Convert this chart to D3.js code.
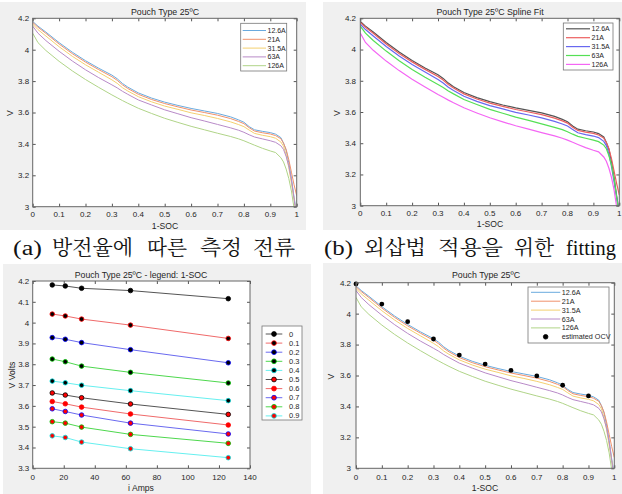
<!DOCTYPE html>
<html>
<head>
<meta charset="utf-8">
<script src="https://cdn.jsdelivr.net/npm/d3@7"></script>
<style>
    body { margin: 0; background: #fff; }
    svg { display: block; font-family: "Liberation Sans", Arial, sans-serif; }
</style>
</head>
<body>
<svg width="622" height="494"></svg>
<script>
// ---- data ----
const currentNames = ["12.6A", "21A", "31.5A", "63A", "126A"];
const socGrid = [0, 0.02, 0.05, 0.1, 0.15, 0.2, 0.25, 0.3, 0.32, 0.34, 0.36, 0.4, 0.45, 0.5, 0.55, 0.6, 0.65,
    0.7, 0.75, 0.78, 0.8, 0.82, 0.84, 0.87, 0.9, 0.92, 0.94, 0.95, 0.96, 0.97, 0.98, 0.99, 1.0];
const volts12_6 = [4.180, 4.150, 4.112, 4.045, 3.984, 3.930, 3.882, 3.838, 3.815, 3.785, 3.762, 3.725, 3.692, 3.666,
    3.645, 3.626, 3.610, 3.594, 3.572, 3.553, 3.538, 3.510, 3.490, 3.480, 3.472, 3.462, 3.440, 3.405, 3.36, 3.28,
    3.18, 3.06, 2.96];
const volts21 = [4.174, 4.143, 4.104, 4.036, 3.975, 3.921, 3.873, 3.828, 3.805, 3.776, 3.753, 3.716, 3.683, 3.657,
    3.636, 3.616, 3.600, 3.583, 3.561, 3.543, 3.529, 3.503, 3.482, 3.471, 3.463, 3.453, 3.433, 3.405, 3.365, 3.30,
    3.22, 3.14, 3.07];
const volts31_5 = [4.163, 4.128, 4.087, 4.019, 3.958, 3.904, 3.856, 3.808, 3.786, 3.758, 3.737, 3.701, 3.668, 3.641,
    3.620, 3.598, 3.581, 3.562, 3.540, 3.523, 3.510, 3.488, 3.467, 3.455, 3.446, 3.436, 3.412, 3.385, 3.33, 3.25,
    3.15, 3.05, 2.94];
const volts63 = [4.150, 4.105, 4.058, 3.990, 3.928, 3.872, 3.822, 3.776, 3.757, 3.735, 3.716, 3.680, 3.648, 3.617,
    3.592, 3.567, 3.546, 3.524, 3.502, 3.487, 3.474, 3.458, 3.444, 3.432, 3.420, 3.410, 3.388, 3.365, 3.32, 3.26,
    3.17, 3.05, 2.92];
const volts126 = [4.105, 4.045, 3.995, 3.926, 3.865, 3.810, 3.760, 3.712, 3.694, 3.676, 3.659, 3.627, 3.594, 3.563,
    3.537, 3.512, 3.490, 3.468, 3.447, 3.432, 3.420, 3.406, 3.392, 3.372, 3.355, 3.345, 3.312, 3.285, 3.24, 3.18,
    3.10, 2.99, 2.85];
const curveVolts = [volts12_6, volts21, volts31_5, volts63, volts126];

// voltage vs current at each 1-SOC level (bottom left)
const currents = [12.6, 21, 31.5, 63, 126];
const socLevels = ["0", "0.1", "0.2", "0.3", "0.4", "0.5", "0.6", "0.7", "0.8", "0.9"];
const levelVolts = [
    [4.181, 4.176, 4.165, 4.154, 4.115],
    [4.041, 4.032, 4.017, 3.988, 3.924],
    [3.928, 3.920, 3.904, 3.870, 3.807],
    [3.825, 3.812, 3.791, 3.761, 3.710],
    [3.719, 3.711, 3.699, 3.673, 3.625],
    [3.662, 3.652, 3.639, 3.609, 3.559],
    [3.621, 3.610, 3.594, 3.561, 3.508],
    [3.586, 3.573, 3.556, 3.517, 3.465],
    [3.524, 3.517, 3.498, 3.463, 3.420],
    [3.456, 3.448, 3.426, 3.394, 3.351],
];

// estimated OCV (bottom right)
const ocvSoc = [0, 0.1, 0.2, 0.3, 0.4, 0.5, 0.6, 0.7, 0.8, 0.9];
const ocvVolts = [4.192, 4.062, 3.948, 3.836, 3.732, 3.674, 3.633, 3.597, 3.537, 3.468];

const socTicks = [0, 0.1, 0.2, 0.3, 0.4, 0.5, 0.6, 0.7, 0.8, 0.9, 1];
const socTickLabels = ["0", "0.1", "0.2", "0.3", "0.4", "0.5", "0.6", "0.7", "0.8", "0.9", "1"];
const voltTicks = [3, 3.2, 3.4, 3.6, 3.8, 4, 4.2];
const voltTickLabels = ["3", "3.2", "3.4", "3.6", "3.8", "4", "4.2"];
const ampTicks = [0, 20, 40, 60, 80, 100, 120, 140];
const ampTickLabels = ["0", "20", "40", "60", "80", "100", "120", "140"];
const ampVoltTicks = [3.3, 3.4, 3.5, 3.6, 3.7, 3.8, 3.9, 4, 4.1, 4.2];
const ampVoltTickLabels = ["3.3", "3.4", "3.5", "3.6", "3.7", "3.8", "3.9", "4", "4.1", "4.2"];

// ---- colours ----
const matlabFaded = ["#6aaade", "#f0916c", "#f4d070", "#b88ac8", "#b0d488"];
const splineColours = ["#555555", "#ec5f5f", "#6868f0", "#55e055", "#f466f4"];
const levelLineColours = ["#555555", "#f06a6a", "#6a6af0", "#4ed84e", "#66f0f0"];
const levelEdgeColours = ["#000000", "#ff0000", "#0000ff", "#00c000", "#00e0e0"];

const ink = "#262626";
const svg = d3.select("svg");

function figureBackground(x0, y0, x1, y1) {
    svg.append("rect")
        .attr("x", x0).attr("y", y0)
        .attr("width", x1 - x0).attr("height", y1 - y0)
        .attr("fill", "#f0f0f0");
}

// white axes area + scales, returns layers for plot and frame
function makeAxes(box, xDomain, yDomain, id) {
    const x = d3.scaleLinear().domain(xDomain).range([box.left, box.right]);
    const y = d3.scaleLinear().domain(yDomain).range([box.bottom, box.top]);
    svg.append("rect")
        .attr("x", box.left).attr("y", box.top)
        .attr("width", box.right - box.left).attr("height", box.bottom - box.top)
        .attr("fill", "#fff");
    svg.append("clipPath").attr("id", id)
        .append("rect")
        .attr("x", box.left).attr("y", box.top)
        .attr("width", box.right - box.left).attr("height", box.bottom - box.top);
    const plot = svg.append("g").attr("clip-path", "url(#" + id + ")");
    return {x: x, y: y, box: box, plot: plot};
}

// ticks on all four sides pointing inward, MATLAB style box; labels drawn separately
function drawFrame(ax, xTicks, xLabels, yTicks, yLabels, padX, padY) {
    const b = ax.box;
    const frame = svg.append("g");
    const specs = [
        [d3.axisBottom(ax.x), "translate(0," + b.bottom + ")", xTicks],
        [d3.axisTop(ax.x), "translate(0," + b.top + ")", xTicks],
        [d3.axisLeft(ax.y), "translate(" + b.left + ",0)", yTicks],
        [d3.axisRight(ax.y), "translate(" + b.right + ",0)", yTicks],
    ];
    specs.forEach(function (s) {
        const g = frame.append("g")
            .attr("transform", s[1])
            .call(s[0].tickValues(s[2]).tickFormat("").tickSizeInner(-3).tickSizeOuter(0));
        g.select(".domain").remove();
        g.selectAll("line").attr("stroke", "#555");
    });
    frame.append("rect")
        .attr("x", b.left).attr("y", b.top)
        .attr("width", b.right - b.left).attr("height", b.bottom - b.top)
        .attr("fill", "none").attr("stroke", "#666").attr("stroke-width", 1);

    frame.append("g").selectAll("text")
        .data(d3.zip(xTicks, xLabels))
        .join("text")
        .attr("x", function (d) { return ax.x(d[0]); })
        .attr("y", b.bottom + padX + 6)
        .attr("text-anchor", "middle")
        .attr("font-size", 8)
        .attr("fill", ink)
        .text(function (d) { return d[1]; });
    frame.append("g").selectAll("text")
        .data(d3.zip(yTicks, yLabels))
        .join("text")
        .attr("x", b.left - padY)
        .attr("y", function (d) { return ax.y(d[0]) + 2.9; })
        .attr("text-anchor", "end")
        .attr("font-size", 8)
        .attr("fill", ink)
        .text(function (d) { return d[1]; });
}

function label(x, y, text, size, rotate) {
    const t = svg.append("text")
        .attr("x", x).attr("y", y)
        .attr("text-anchor", "middle")
        .attr("font-size", size)
        .attr("fill", ink)
        .text(text);
    if (rotate) {
        t.attr("transform", "rotate(-90," + x + "," + y + ")");
    }
    return t;
}

function drawCurves(ax, colours, width) {
    const line = d3.line()
        .x(function (d) { return ax.x(d[0]); })
        .y(function (d) { return ax.y(d[1]); });
    curveVolts.forEach(function (volts, i) {
        ax.plot.append("path")
            .datum(d3.zip(socGrid, volts))
            .attr("d", line)
            .attr("fill", "none")
            .attr("stroke", colours[i])
            .attr("stroke-width", width);
    });
}

// legend: rows = [{name, stroke, face, edge}]
function drawLegend(lg, rows) {
    const g = svg.append("g");
    g.append("rect")
        .attr("x", lg.x0).attr("y", lg.y0)
        .attr("width", lg.x1 - lg.x0).attr("height", lg.y1 - lg.y0)
        .attr("fill", "#fff").attr("stroke", "#777").attr("stroke-width", 0.8);
    rows.forEach(function (r, i) {
        const cy = lg.firstY + i * lg.step;
        if (r.stroke) {
            g.append("line")
                .attr("x1", lg.lineX0).attr("x2", lg.lineX1)
                .attr("y1", cy).attr("y2", cy)
                .attr("stroke", r.stroke).attr("stroke-width", lg.lineWidth || 1);
        }
        if (r.face) {
            g.append("circle")
                .attr("cx", (lg.lineX0 + lg.lineX1) / 2).attr("cy", cy)
                .attr("r", lg.dotR)
                .attr("fill", r.face)
                .attr("stroke", r.edge || r.face).attr("stroke-width", 0.8);
        }
        g.append("text")
            .attr("x", lg.textX).attr("y", cy + 2.5)
            .attr("font-size", lg.fontSize)
            .attr("fill", ink)
            .text(r.name);
    });
}

// ---- figure backgrounds ----
figureBackground(0, 2, 306, 230);
figureBackground(323, 2, 622, 230);
figureBackground(3, 264, 311, 494);
figureBackground(323, 263, 622, 494);

// ---- (top left) measured curves ----
const ax1 = makeAxes({left: 32.7, right: 296.7, top: 18.3, bottom: 206.7}, [0, 1], [3, 4.2], "clip1");
drawCurves(ax1, matlabFaded, 1);
drawFrame(ax1, socTicks, socTickLabels, voltTicks, voltTickLabels, 4, 3.5);
label(165, 15, "Pouch Type 25ºC", 8.8);
label(165, 229, "1-SOC", 8.6);
label(12.5, 113, "V", 8.6, true);
drawLegend({x0: 240.7, x1: 286.7, y0: 23.3, y1: 71, firstY: 30.5, step: 8.8,
        lineX0: 242.7, lineX1: 266, textX: 267.5, fontSize: 7},
    currentNames.map(function (n, i) { return {name: n, stroke: matlabFaded[i]}; }));

// ---- (top right) spline fit ----
const ax2 = makeAxes({left: 360.3, right: 619.3, top: 18.3, bottom: 205.7}, [0, 1], [3, 4.2], "clip2");
drawCurves(ax2, splineColours, 1.2);
drawFrame(ax2, socTicks, socTickLabels, voltTicks, voltTickLabels, 4.5, 4.3);
label(490, 14.5, "Pouch Type 25ºC Spline Fit", 8.8);
label(490, 226.5, "1-SOC", 8.6);
label(340, 113, "V", 8.6, true);
drawLegend({x0: 563.3, x1: 613, y0: 23, y1: 70, firstY: 28.8, step: 8.9,
        lineX0: 566, lineX1: 590, textX: 591.5, fontSize: 7, lineWidth: 1.2},
    currentNames.map(function (n, i) { return {name: n, stroke: splineColours[i]}; }));

// ---- (bottom left) voltage vs current ----
const ax3 = makeAxes({left: 32.7, right: 250, top: 281, bottom: 468.3}, [0, 140], [3.3, 4.2], "clip3");
const ampLine = d3.line()
    .x(function (d) { return ax3.x(d[0]); })
    .y(function (d) { return ax3.y(d[1]); });
levelVolts.forEach(function (volts, i) {
    const pts = d3.zip(currents, volts);
    ax3.plot.append("path")
        .datum(pts)
        .attr("d", ampLine)
        .attr("fill", "none")
        .attr("stroke", levelLineColours[i % 5])
        .attr("stroke-width", 1);
    svg.selectAll(".dot" + i)
        .data(pts)
        .enter()
        .append("circle")
        .attr("cx", function (d) { return ax3.x(d[0]); })
        .attr("cy", function (d) { return ax3.y(d[1]); })
        .attr("r", 2.3)
        .attr("fill", i < 5 ? "#000" : "#f00")
        .attr("stroke", levelEdgeColours[i % 5])
        .attr("stroke-width", 0.8);
});
drawFrame(ax3, ampTicks, ampTickLabels, ampVoltTicks, ampVoltTickLabels, 6, 3.4);
label(141, 277.5, "Pouch Type 25ºC - legend: 1-SOC", 8.7);
label(141, 490.5, "i Amps", 8.6);
label(15, 375, "V Volts", 8.6, true);
drawLegend({x0: 262, x1: 302, y0: 326, y1: 420, firstY: 334, step: 9.1,
        lineX0: 265.7, lineX1: 282.3, textX: 289, fontSize: 7.5, dotR: 2.4},
    socLevels.map(function (n, i) {
        return {name: n, stroke: levelLineColours[i % 5], face: i < 5 ? "#000" : "#f00", edge: levelEdgeColours[i % 5]};
    }));

// ---- (bottom right) curves with estimated OCV ----
const ax4 = makeAxes({left: 356, right: 614.3, top: 282.7, bottom: 468.3}, [0, 1], [3, 4.2], "clip4");
drawCurves(ax4, matlabFaded, 1);
svg.selectAll(".ocv")
    .data(d3.zip(ocvSoc, ocvVolts))
    .enter()
    .append("circle")
    .attr("class", "ocv")
    .attr("cx", function (d) { return ax4.x(d[0]); })
    .attr("cy", function (d) { return ax4.y(d[1]); })
    .attr("r", 2.4)
    .attr("fill", "#000");
drawFrame(ax4, socTicks, socTickLabels, voltTicks, voltTickLabels, 6, 5);
label(486, 277.5, "Pouch Type 25ºC", 8.8);
label(485, 491, "1-SOC", 8.6);
label(334.5, 376.7, "V", 8.6, true);
drawLegend({x0: 528, x1: 609, y0: 287, y1: 343, firstY: 292.3, step: 8.9,
        lineX0: 531, lineX1: 560.3, textX: 561.7, fontSize: 7.2, dotR: 2.3},
    currentNames.map(function (n, i) { return {name: n, stroke: matlabFaded[i]}; })
        .concat([{name: "estimated OCV", face: "#000"}]));

// ---- captions ----
const captionA = ["(a)", "방전율에", "따른", "측정", "전류"];
const captionB = ["(b)", "외삽법", "적용을", "위한", "fitting"];
function caption(words, starts, widths) {
    words.forEach(function (w, i) {
        svg.append("text")
            .attr("x", starts[i]).attr("y", 255)
            .attr("font-family", "'Liberation Serif', 'Noto Serif CJK KR', 'Noto Sans CJK KR', serif")
            .attr("font-size", 20)
            .attr("fill", "#111")
            .attr("textLength", widths[i])
            .attr("lengthAdjust", "spacingAndGlyphs")
            .text(w);
    });
}
caption(captionA, [13, 52, 147, 200, 253], [29, 81, 40, 42, 42]);
caption(captionB, [324, 364, 438, 514, 566], [29, 62, 65, 40, 50]);
</script>
</body>
</html>
